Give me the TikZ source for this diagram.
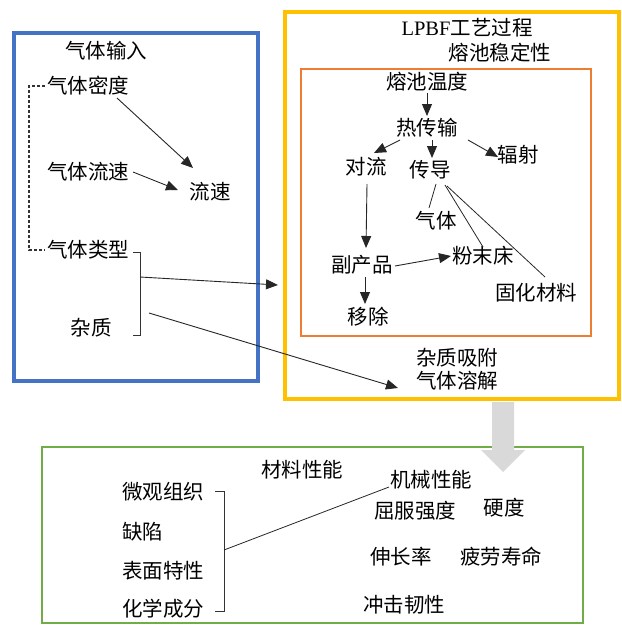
\documentclass[tikz,border=0pt]{standalone}
\usepackage{fontspec}
\setmainfont{Noto Sans CJK SC}
\newfontfamily\latinserif{Liberation Serif}
\usetikzlibrary{arrows.meta}
\definecolor{bluebox}{HTML}{4472C4}
\definecolor{yellowbox}{HTML}{FFC000}
\definecolor{orangebox}{HTML}{ED7D31}
\definecolor{greenbox}{HTML}{70AD47}
\definecolor{grayarrow}{HTML}{D9D9D9}
\tikzset{
  txt/.style={inner sep=1pt, font=\fontsize{20.5}{23}\selectfont},
  lt/.style={txt, anchor=west},
  arr/.style={draw=black!85, line width=0.9pt, -{Triangle[length=12pt,width=10pt]}},
  ln/.style={draw=black!85, line width=0.8pt},
  brk/.style={draw=black!80, line width=0.9pt},
}
\begin{document}
\begin{tikzpicture}[x=1pt,y=-1pt]
\useasboundingbox (0,0) rectangle (621,626);
% boxes
\draw[bluebox, line width=4pt] (14,33) rectangle (258,381);
\draw[yellowbox, line width=4pt] (285,12) rectangle (619,399);
\draw[orangebox, line width=1.5pt] (301,69) rectangle (591,336);
\draw[greenbox, line width=2.2pt] (42,447) rectangle (583,623);
% gray arrow
\fill[grayarrow] (492,402) -- (514,402) -- (514,450) -- (525,450) -- (503,472) -- (481,450) -- (492,450) -- cycle;

% left box
\node[txt] (gin) at (106,51) {气体输入};
\node[lt] (gmd) at (46,86) {气体密度};
\node[lt] (gls) at (46,172) {气体流速};
\node[txt] (ls) at (210,192) {流速};
\node[lt] (glx) at (46,250) {气体类型};
\node[txt] (zz) at (91,328) {杂质};
\coordinate (dtop) at (45,86);
\coordinate (dbot) at (45,250);
\draw[brk, line width=1.2pt, dash pattern=on 3pt off 2pt] (dtop) -- (29,86) -- (29,250) -- (dbot);
\coordinate (btop) at (133,252);
\coordinate (bbot) at (133,335);
\draw[brk] (btop) -- (140,252) -- (140,335) -- (bbot);
\coordinate (bmid) at (140,277);
\coordinate (bimp) at (149,313);
\draw[arr] (117,98) -- (193,168);
\draw[arr] (133,172) -- (178,190);

% right box
\node[txt] (lpbf) at (467,28) {{\latinserif LPBF}工艺过程};
\node[txt] (rcw) at (500,53) {熔池稳定性};
\node[txt] (rcwd) at (427,82) {熔池温度};
\node[txt] (rcs) at (427,128) {热传输};
\node[txt] (dl) at (366,167) {对流};
\node[txt] (cd) at (430,170) {传导};
\node[txt] (fs) at (518,155) {辐射};
\node[txt] (qt) at (436,221) {气体};
\node[txt] (fmc) at (483,256) {粉末床};
\node[txt] (ghcl) at (536,293) {固化材料};
\node[txt] (fcp) at (362,265) {副产品};
\node[txt] (yc) at (368,317) {移除};
\node[txt] (zzxf) at (457,358) {杂质吸附};
\node[txt] (qtrj) at (457,381) {气体溶解};
\draw[arr] (427,93) -- (427,116);
\draw[arr] (400,140) -- (374,153);
\draw[arr] (432,140) -- (432,158);
\draw[arr] (468,140) -- (498,157);
\draw[arr] (367,184) -- (366,248);
\draw[arr] (395,266) -- (451,256);
\draw[arr] (365,277) -- (365,304);
\draw[ln] (436,184) -- (429,208);
\draw[ln] (445,185) -- (483,247);
\draw[ln] (447,186) -- (545,277);

% cross connectors
\coordinate (yin) at (278,285);
\draw[arr] (bmid) -- (yin);
\coordinate (impend) at (398,388);
\draw[arr] (bimp) -- (impend);

% bottom box
\node[txt] (clxn) at (302,470) {材料性能};
\node[txt] (jxxn) at (431,480) {机械性能};
\node[txt] (qfqd) at (415,511) {屈服强度};
\node[txt] (yd) at (504,508) {硬度};
\node[txt] (scl) at (401,557) {伸长率};
\node[txt] (plsm) at (501,557) {疲劳寿命};
\node[txt] (cjrx) at (404,605) {冲击韧性};
\node[lt] (wgzz) at (121,492) {微观组织};
\node[lt] (qx) at (121,532) {缺陷};
\node[lt] (bmtx) at (121,571) {表面特性};
\node[lt] (hxcf) at (121,609) {化学成分};
\coordinate (gtop) at (215,491);
\coordinate (gbot) at (215,611);
\draw[brk] (gtop) -- (224,491) -- (224,611) -- (gbot);
\coordinate (gmid) at (224,550);
\coordinate (jxin) at (389,487);
\draw[ln] (gmid) -- (jxin);
\end{tikzpicture}
\end{document}
